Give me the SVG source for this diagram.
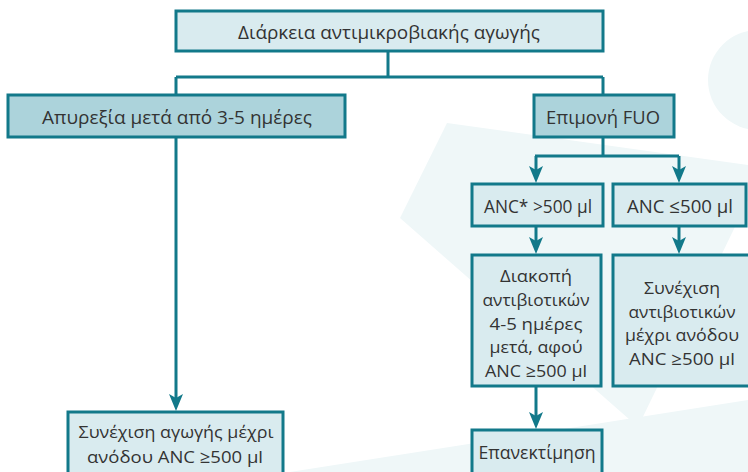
<svg xmlns="http://www.w3.org/2000/svg" width="748" height="472" viewBox="0 0 748 472">
<defs>
<style>
.box{stroke:#12798a;stroke-width:3}
.dark{fill:#acd3db}
.light{fill:#d9ebef}
.t{font-family:"Open Sans","Noto Sans","Liberation Sans",sans-serif;font-size:19px;fill:#333;text-anchor:middle}
.m{font-size:17.2px}
.c{fill:none;stroke:#12798a;stroke-width:3}
.wm{fill:#eff7f8}
</style>
<marker id="ah" markerWidth="17" markerHeight="14" refX="9" refY="7" orient="auto" markerUnits="userSpaceOnUse" viewBox="0 0 17 14">
<path d="M0,0 L17,7 L0,14 L4,7 Z" fill="#12798a"/>
</marker>
</defs>
<rect width="748" height="472" fill="#ffffff"/>
<g id="background">
<circle class="wm" cx="758" cy="80" r="50"/>
<polygon class="wm" points="447,123 748,165 748,200 638,427 400,218"/>
<circle class="wm" cx="560" cy="490" r="60"/>
<polygon class="wm" points="290,472 748,400 748,472"/>
</g>
<g id="connectors">
<path class="c" d="M388,51 V77 M176,77 H603 M176,77 V95 M603,77 V95"/>
<path class="c" d="M603,137 V156 M535,156 H679"/>
<line class="c" x1="536" y1="156" x2="536" y2="175" marker-end="url(#ah)"/>
<line class="c" x1="679" y1="156" x2="679" y2="175" marker-end="url(#ah)"/>
<line class="c" x1="176" y1="137" x2="176" y2="403" marker-end="url(#ah)"/>
<line class="c" x1="536" y1="226" x2="536" y2="246" marker-end="url(#ah)"/>
<line class="c" x1="679" y1="226" x2="679" y2="246" marker-end="url(#ah)"/>
<line class="c" x1="536" y1="387" x2="536" y2="421" marker-end="url(#ah)"/>
</g>
<g id="n_duration">
<rect class="box light" x="176" y="11" width="427" height="40"/>
<text class="t" x="389" y="39" textLength="302" lengthAdjust="spacingAndGlyphs">Διάρκεια αντιμικροβιακής αγωγής</text>
</g>
<g id="n_apyrexia">
<rect class="box dark" x="8" y="95" width="337" height="42"/>
<text class="t" x="177" y="124" textLength="270" lengthAdjust="spacingAndGlyphs">Απυρεξία μετά από 3-5 ημέρες</text>
</g>
<g id="n_fuo">
<rect class="box dark" x="534" y="95" width="140" height="42"/>
<text class="t" x="603" y="124" textLength="114" lengthAdjust="spacingAndGlyphs">Επιμονή FUO</text>
</g>
<g id="n_anc_gt">
<rect class="box light" x="472" y="184" width="131" height="42"/>
<text class="t" x="538" y="213" textLength="108" lengthAdjust="spacingAndGlyphs">ANC* &gt;500 μl</text>
</g>
<g id="n_anc_le">
<rect class="box light" x="613" y="184" width="133" height="42"/>
<text class="t" x="680" y="213" textLength="106" lengthAdjust="spacingAndGlyphs">ANC ≤500 μl</text>
</g>
<g id="n_stop">
<rect class="box light" x="472" y="255" width="129" height="131"/>
<text class="t m" x="536" y="282" textLength="72" lengthAdjust="spacingAndGlyphs">Διακοπή</text>
<text class="t m" x="536" y="306" textLength="107" lengthAdjust="spacingAndGlyphs">αντιβιοτικών</text>
<text class="t m" x="536" y="330" textLength="93" lengthAdjust="spacingAndGlyphs">4-5 ημέρες</text>
<text class="t m" x="536" y="353" textLength="93" lengthAdjust="spacingAndGlyphs">μετά, αφού</text>
<text class="t m" x="536" y="377" textLength="102" lengthAdjust="spacingAndGlyphs">ANC ≥500 μl</text>
</g>
<g id="n_continue_ab">
<rect class="box light" x="613" y="255" width="140" height="131"/>
<text class="t m" x="682" y="294" textLength="76" lengthAdjust="spacingAndGlyphs">Συνέχιση</text>
<text class="t m" x="682" y="318" textLength="107" lengthAdjust="spacingAndGlyphs">αντιβιοτικών</text>
<text class="t m" x="682" y="341" textLength="114" lengthAdjust="spacingAndGlyphs">μέχρι ανόδου</text>
<text class="t m" x="682" y="365" textLength="106" lengthAdjust="spacingAndGlyphs">ANC ≥500 μl</text>
</g>
<g id="n_reeval">
<rect class="box light" x="472" y="430" width="130" height="50"/>
<text class="t" x="537" y="459" textLength="117" lengthAdjust="spacingAndGlyphs">Επανεκτίμηση</text>
</g>
<g id="n_continue">
<rect class="box light" x="68" y="412" width="215" height="70"/>
<text class="t m" x="176" y="438" textLength="195" lengthAdjust="spacingAndGlyphs">Συνέχιση αγωγής μέχρι</text>
<text class="t m" x="175" y="463" textLength="176" lengthAdjust="spacingAndGlyphs">ανόδου ANC ≥500 μl</text>
</g>
</svg>
